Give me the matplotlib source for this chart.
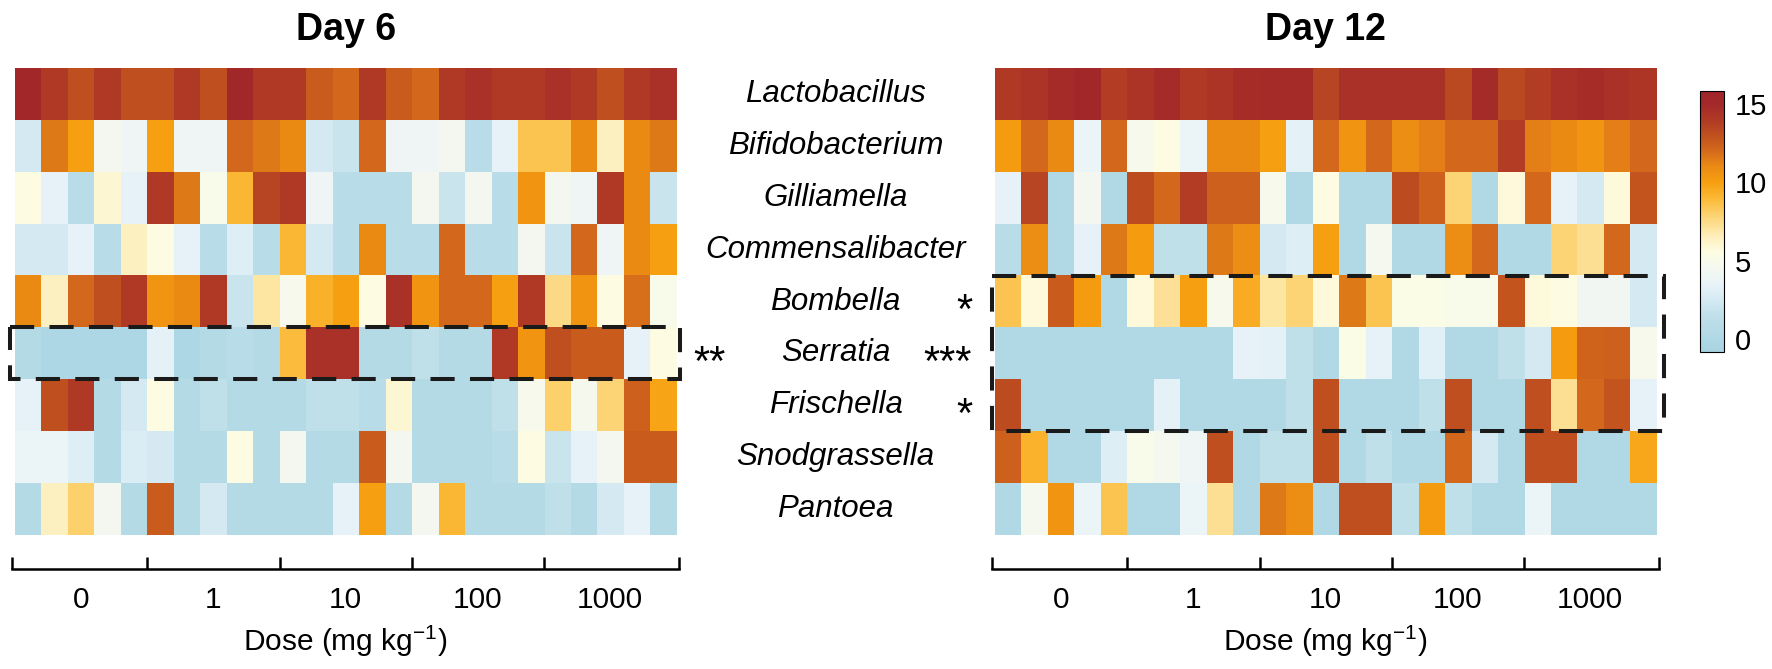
import numpy as np
import matplotlib
matplotlib.use("Agg")
import matplotlib.pyplot as plt
from matplotlib.colors import LinearSegmentedColormap
from matplotlib.patches import Rectangle
from matplotlib.transforms import blended_transform_factory

plt.rcParams["font.family"] = ["Liberation Sans", "DejaVu Sans"]
plt.rcParams["mathtext.fontset"] = "custom"
plt.rcParams["mathtext.rm"] = "Liberation Sans"

genera = ["Lactobacillus", "Bifidobacterium", "Gilliamella", "Commensalibacter",
          "Bombella", "Serratia", "Frischella", "Snodgrassella", "Pantoea"]
doses = ["0", "1", "10", "100", "1000"]

# log abundance per bee, 5 bees per dose
day6 = [
    [15, 14, 13, 14, 13, 13, 14, 13, 15, 14, 14, 12.5, 12, 14, 12.5, 12, 14, 14.5, 14, 14, 14.5, 14, 13, 14, 14.5],
    [2.5, 11.5, 10, 4.5, 4, 10, 4, 4, 12, 11.5, 11, 2.5, 2, 12, 4, 4, 4.5, 1, 3.5, 8.5, 8.5, 11, 6.5, 11, 11.5],
    [5.5, 3.5, 1, 6, 3.5, 14, 11.5, 5, 9, 13.5, 14, 4, 1, 1, 1, 4.5, 2, 4.5, 1, 10.5, 4.5, 4, 14, 11, 2],
    [2.5, 2.5, 3.5, 1, 6.5, 5.5, 3.5, 1, 3, 1, 9, 2.5, 1, 11, 1, 1, 12, 1, 1, 4.5, 2, 12, 4, 11, 10],
    [11, 6.5, 12, 13, 14, 10.5, 11, 14, 2, 7, 4.8, 9.3, 10, 5.5, 14.5, 10.5, 12, 12, 10, 14, 7.5, 10.5, 5.5, 11.8, 5],
    [0.5, 0, 0, 0, 0, 3.3, 0, 0.5, 1, 0.5, 8.8, 14.5, 14.5, 0.5, 0.5, 1.5, 0.5, 0.5, 14, 10.5, 13, 12.5, 12.5, 3.5, 5.5],
    [3.5, 13, 14, 0.5, 2.5, 5.5, 0.5, 1.5, 0.5, 0.5, 0.5, 1.5, 1.5, 1, 6, 0.5, 0.5, 0.5, 1.5, 4.8, 8, 4.7, 7.8, 12.3, 9.8],
    [3.8, 3.8, 3, 0.5, 2.8, 2.5, 0.5, 0.5, 5.5, 0.5, 4.5, 0.5, 0.5, 12.5, 4.5, 0.5, 0.5, 0.5, 1, 5.5, 2, 3.5, 4.5, 12.5, 12.5],
    [0.5, 6.5, 8, 4.5, 0.5, 12.5, 0.5, 2.5, 0.5, 0.5, 0.5, 0.5, 3.5, 10, 0.5, 4.5, 9, 0.5, 0.5, 0.5, 1.5, 0.5, 2.5, 3.5, 0.5],
]
day12 = [
    [14, 14.3, 14.8, 15, 13.8, 14.3, 14.8, 14, 14.3, 14.7, 14.8, 14.8, 13.5, 14.5, 14.5, 14.5, 14.5, 13.3, 14.8, 13.3, 13.8, 14.5, 14.7, 14.5, 14.2],
    [10.2, 12, 11, 3.8, 12, 4.8, 5.5, 3.8, 11, 11, 10, 3.3, 12, 10.5, 12, 10.8, 11.3, 12, 12, 13.8, 11.3, 11, 10.5, 11.3, 12],
    [3.5, 13.5, 0.3, 4.5, 0.3, 13.2, 12, 13.8, 12.3, 12.3, 4.8, 0.3, 5.5, 0.3, 0.3, 13.2, 12.3, 7.8, 0.3, 5.8, 12, 3.5, 2.5, 5.7, 12.8],
    [1, 10.8, 0.3, 3.5, 11.5, 10.2, 1.5, 1.5, 11.5, 10.8, 2.5, 3, 10, 0.3, 4.6, 0.3, 0.3, 10.8, 12, 0.3, 0.3, 7.8, 7.3, 12, 2.5],
    [8.5, 5.8, 12.5, 10.2, 0.3, 5.8, 7.2, 10, 4.8, 9.5, 7, 7.8, 5.8, 11.5, 8.5, 5.4, 5.3, 5, 5, 12.8, 5.7, 5.6, 4.3, 4.3, 2.5],
    [0.3, 0.3, 0.3, 0.3, 0.3, 0.3, 0.3, 0.3, 0.3, 3.5, 3.3, 1.5, 0.3, 5.3, 3.5, 0.3, 3.2, 0.3, 0.3, 1.5, 2.5, 10.2, 12.2, 12.3, 4.8],
    [13.2, 0.3, 0.3, 0.3, 0.3, 0.3, 3.3, 0.3, 0.3, 0.3, 0.3, 1.5, 13, 0.3, 0.3, 0.3, 1.5, 13, 0.3, 0.3, 13, 7.3, 12, 12.8, 3.5],
    [12.3, 9.2, 0.3, 0.3, 3, 5, 4.6, 4, 13, 0.3, 1.5, 1.5, 13, 0.3, 1.5, 0.3, 0.3, 12, 2.5, 0.3, 13, 13, 0.3, 0.3, 9.7],
    [0.3, 4.6, 10.5, 3.8, 8.5, 0.3, 0.3, 3.8, 7.3, 0.3, 11.5, 10.8, 0.3, 13, 13, 1.5, 10.2, 1.5, 0.3, 0.3, 3.8, 0.3, 0.3, 0.3, 0.3],
]
sig_day6 = ["", "", "", "", "", "**", "", "", ""]
sig_day12 = ["", "", "", "", "*", "***", "*", "", ""]

vmin, vmax = -0.8, 15.8
stops = [(-0.8, "#a8d3e0"), (0, "#aed8e5"), (1.5, "#c0e0ea"), (2.5, "#d5eaf3"),
         (3.5, "#e8f3f9"), (4.5, "#f4f8f0"), (5.5, "#fdfde4"), (6.5, "#fef0c0"),
         (8, "#fcd06a"), (9, "#fbb835"), (10, "#f7a010"), (11, "#ea8a14"),
         (12, "#d4691c"), (13, "#c0501f"), (14, "#b03a25"), (15, "#a3282a"),
         (15.8, "#9e2529")]
cmap = LinearSegmentedColormap.from_list(
    "abund", [((v - vmin) / (vmax - vmin), c) for v, c in stops])

W, H = 1772, 669
fig = plt.figure(figsize=(W / 100, H / 100), dpi=100)
ax1 = fig.add_axes([12.3 / W, 1 - 535 / H, 666.7 / W, 467 / H])
ax2 = fig.add_axes([992.3 / W, 1 - 535 / H, 666.7 / W, 467 / H])
cax = fig.add_axes([1700 / W, 1 - 352 / H, 24 / W, 261 / H])


def panel(ax, data, title, sig, box_x):
    data = np.array(data)
    nrow, ncol = data.shape
    im = ax.imshow(data, cmap=cmap, vmin=vmin, vmax=vmax, aspect="auto",
                   interpolation="nearest")
    ax.set_xlim(-0.5, ncol - 0.5)
    ax.set_ylim(nrow - 0.5, -0.5)
    for s in ["left", "right", "top"]:
        ax.spines[s].set_visible(False)
    ax.set_yticks([])
    per = ncol // len(doses)
    edges = [-0.5 + per * k for k in range(len(doses) + 1)]
    edges[0] -= 0.1
    edges[-1] += 0.1
    ax.spines["bottom"].set_position(("outward", 24.5))
    ax.spines["bottom"].set_linewidth(1.8)
    ax.spines["bottom"].set_bounds(edges[0], edges[-1])
    ax.set_xticks([per * k + (per - 1) / 2 for k in range(len(doses))], doses)
    ax.set_xticks(edges, minor=True)
    ax.tick_params(axis="x", which="major", length=0, pad=12, labelsize=21.5)
    ax.tick_params(axis="x", which="minor", length=8.6, width=1.8, direction="in")
    ax.set_xlabel("Dose (mg kg$^{-1}$)", fontsize=21.5, labelpad=7)
    ax.set_title(title, fontsize=27, fontweight="bold", pad=20)
    rows = [i for i, s in enumerate(sig) if s]
    r0, r1 = min(rows) - 0.5, max(rows) + 0.5
    ax.add_patch(Rectangle((box_x[0], r0), box_x[1] - box_x[0], r1 - r0,
                           fill=False, ec="#1a1a1a", lw=2.9,
                           ls=(0, (6, 3.8)), clip_on=False, zorder=5))
    return im


im = panel(ax1, day6, "Day 6", sig_day6, (-0.7, 24.65))
panel(ax2, day12, "Day 12", sig_day12, (-0.62, 24.8))

tr = blended_transform_factory(fig.transFigure, ax1.transData)
for i, g in enumerate(genera):
    fig.text(835.6 / W, i, g, transform=tr, ha="center", va="center",
             fontsize=22.5, style="italic")
    if sig_day6[i]:
        fig.text(693 / W, i + 0.42, sig_day6[i], transform=tr, ha="left",
                 va="baseline", fontsize=30)
    if sig_day12[i]:
        fig.text(972 / W, i + 0.42, sig_day12[i], transform=tr, ha="right",
                 va="baseline", fontsize=30)

cb = fig.colorbar(im, cax=cax, ticks=[0, 5, 10, 15])
cb.outline.set_linewidth(0.8)
cb.ax.tick_params(length=0, pad=8, labelsize=21)

fig.savefig("out.png", dpi=100)
